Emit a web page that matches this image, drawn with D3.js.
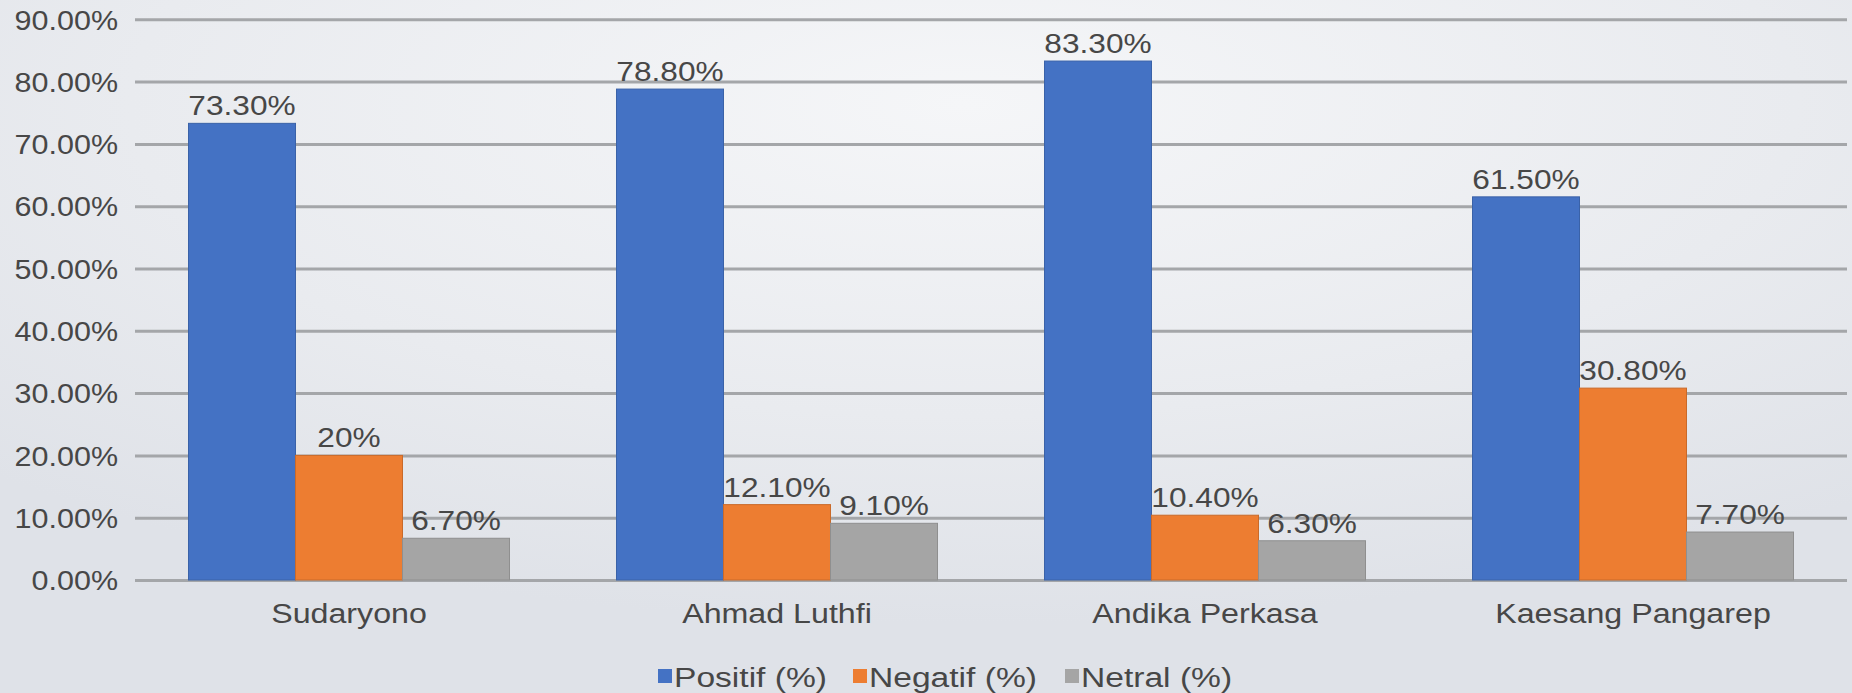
<!DOCTYPE html>
<html>
<head>
<meta charset="utf-8">
<script src="https://cdn.jsdelivr.net/npm/d3@7"></script>
<style>
  html, body { margin: 0; padding: 0; background: #e8ebef; }
  svg { display: block; }
  text { font-family: "Liberation Sans", Arial, sans-serif; fill: #474747; }
</style>
</head>
<body>
<script>
const categories = ["Sudaryono", "Ahmad Luthfi", "Andika Perkasa", "Kaesang Pangarep"];
const seriesNames = ["Positif (%)", "Negatif (%)", "Netral (%)"];
const positif = [73.3, 78.8, 83.3, 61.5];
const negatif = [20, 12.1, 10.4, 30.8];
const netral = [6.7, 9.1, 6.3, 7.7];
const positifLabels = ["73.30%", "78.80%", "83.30%", "61.50%"];
const negatifLabels = ["20%", "12.10%", "10.40%", "30.80%"];
const netralLabels = ["6.70%", "9.10%", "6.30%", "7.70%"];
const yTicks = [0, 10, 20, 30, 40, 50, 60, 70, 80, 90];
const yTickLabels = ["0.00%", "10.00%", "20.00%", "30.00%", "40.00%", "50.00%", "60.00%", "70.00%", "80.00%", "90.00%"];
const colors = ["#4472C4", "#ED7D31", "#A5A5A5"];
const strokes = ["#3a62a8", "#c96a2a", "#8f8f8f"];

const W = 1852, H = 693;
const plotL = 135, plotR = 1847, plotT = 19.3, plotB = 580;
const SX = 1.13;

const svg = d3.select("body").append("svg").attr("width", W).attr("height", H);

const defs = svg.append("defs");
const grad = defs.append("radialGradient").attr("id", "bg")
  .attr("cx", 0.52).attr("cy", 0.15).attr("r", 0.75);
grad.append("stop").attr("offset", "0%").attr("stop-color", "#f5f6f8");
grad.append("stop").attr("offset", "60%").attr("stop-color", "#e9ebef");
grad.append("stop").attr("offset", "100%").attr("stop-color", "#dfe2e8");
svg.append("rect").attr("width", W).attr("height", H).attr("fill", "url(#bg)");

const y = d3.scaleLinear().domain([0, 90]).range([plotB, plotT]);
const x0 = d3.scaleBand().domain(categories).range([plotL, plotR])
  .paddingInner(0.25).paddingOuter(0.125);
const x1 = d3.scaleBand().domain(seriesNames).range([0, x0.bandwidth()]);

// gridlines + y labels via axis
const yAxis = d3.axisLeft(y).tickValues(yTicks)
  .tickSize(-(plotR - plotL))
  .tickFormat((d, i) => yTickLabels[i]);
const gy = svg.append("g").attr("transform", `translate(${plotL},0)`).call(yAxis);
gy.select(".domain").remove();
gy.selectAll(".tick line").attr("stroke", "#a4a6a9").attr("stroke-width", 3);
gy.selectAll(".tick text")
  .attr("x", 0).attr("dy", "0.36em")
  .attr("transform", `translate(-17,0) scale(${SX},1)`)
  .attr("text-anchor", "end")
  .style("font-size", "27px")
  .style("font-family", '"Liberation Sans", Arial, sans-serif')
  .attr("fill", "#474747");

const seriesVals = [positif, negatif, netral];
const seriesLbls = [positifLabels, negatifLabels, netralLabels];

const rows = categories.map((c, ci) => ({
  cat: c,
  items: seriesNames.map((s, si) => ({ s, si, v: seriesVals[si][ci], lbl: seriesLbls[si][ci] }))
}));

const groups = svg.append("g").selectAll("g").data(rows).join("g")
  .attr("transform", d => `translate(${x0(d.cat)},0)`);

groups.selectAll("rect").data(d => d.items).join("rect")
  .attr("x", d => x1(d.s))
  .attr("y", d => y(d.v))
  .attr("width", x1.bandwidth())
  .attr("height", d => y(0) - y(d.v))
  .attr("fill", d => colors[d.si])
  .attr("stroke", d => strokes[d.si])
  .attr("stroke-width", 1);

groups.selectAll("text.lbl").data(d => d.items).join("text")
  .attr("class", "lbl")
  .attr("transform", d => `translate(${x1(d.s) + x1.bandwidth() / 2},${y(d.v) - 8}) scale(${SX},1)`)
  .attr("text-anchor", "middle")
  .style("font-size", "28px")
  .text(d => d.lbl);

// category labels
svg.append("g").selectAll("text").data(categories).join("text")
  .attr("transform", d => `translate(${x0(d) + x0.bandwidth() / 2},623) scale(1.15,1)`)
  .attr("text-anchor", "middle")
  .style("font-size", "28px")
  .text(d => d);

// legend
const legendX = [658, 853, 1065];
const lg = svg.append("g").selectAll("g").data(seriesNames).join("g")
  .attr("transform", (d, i) => `translate(${legendX[i]},0)`);
lg.append("rect").attr("x", 0).attr("y", 669).attr("width", 14).attr("height", 14)
  .attr("fill", (d, i) => colors[i]);
lg.append("text")
  .attr("transform", `translate(16,687) scale(1.2,1)`)
  .style("font-size", "28px")
  .text(d => d);
</script>
</body>
</html>
